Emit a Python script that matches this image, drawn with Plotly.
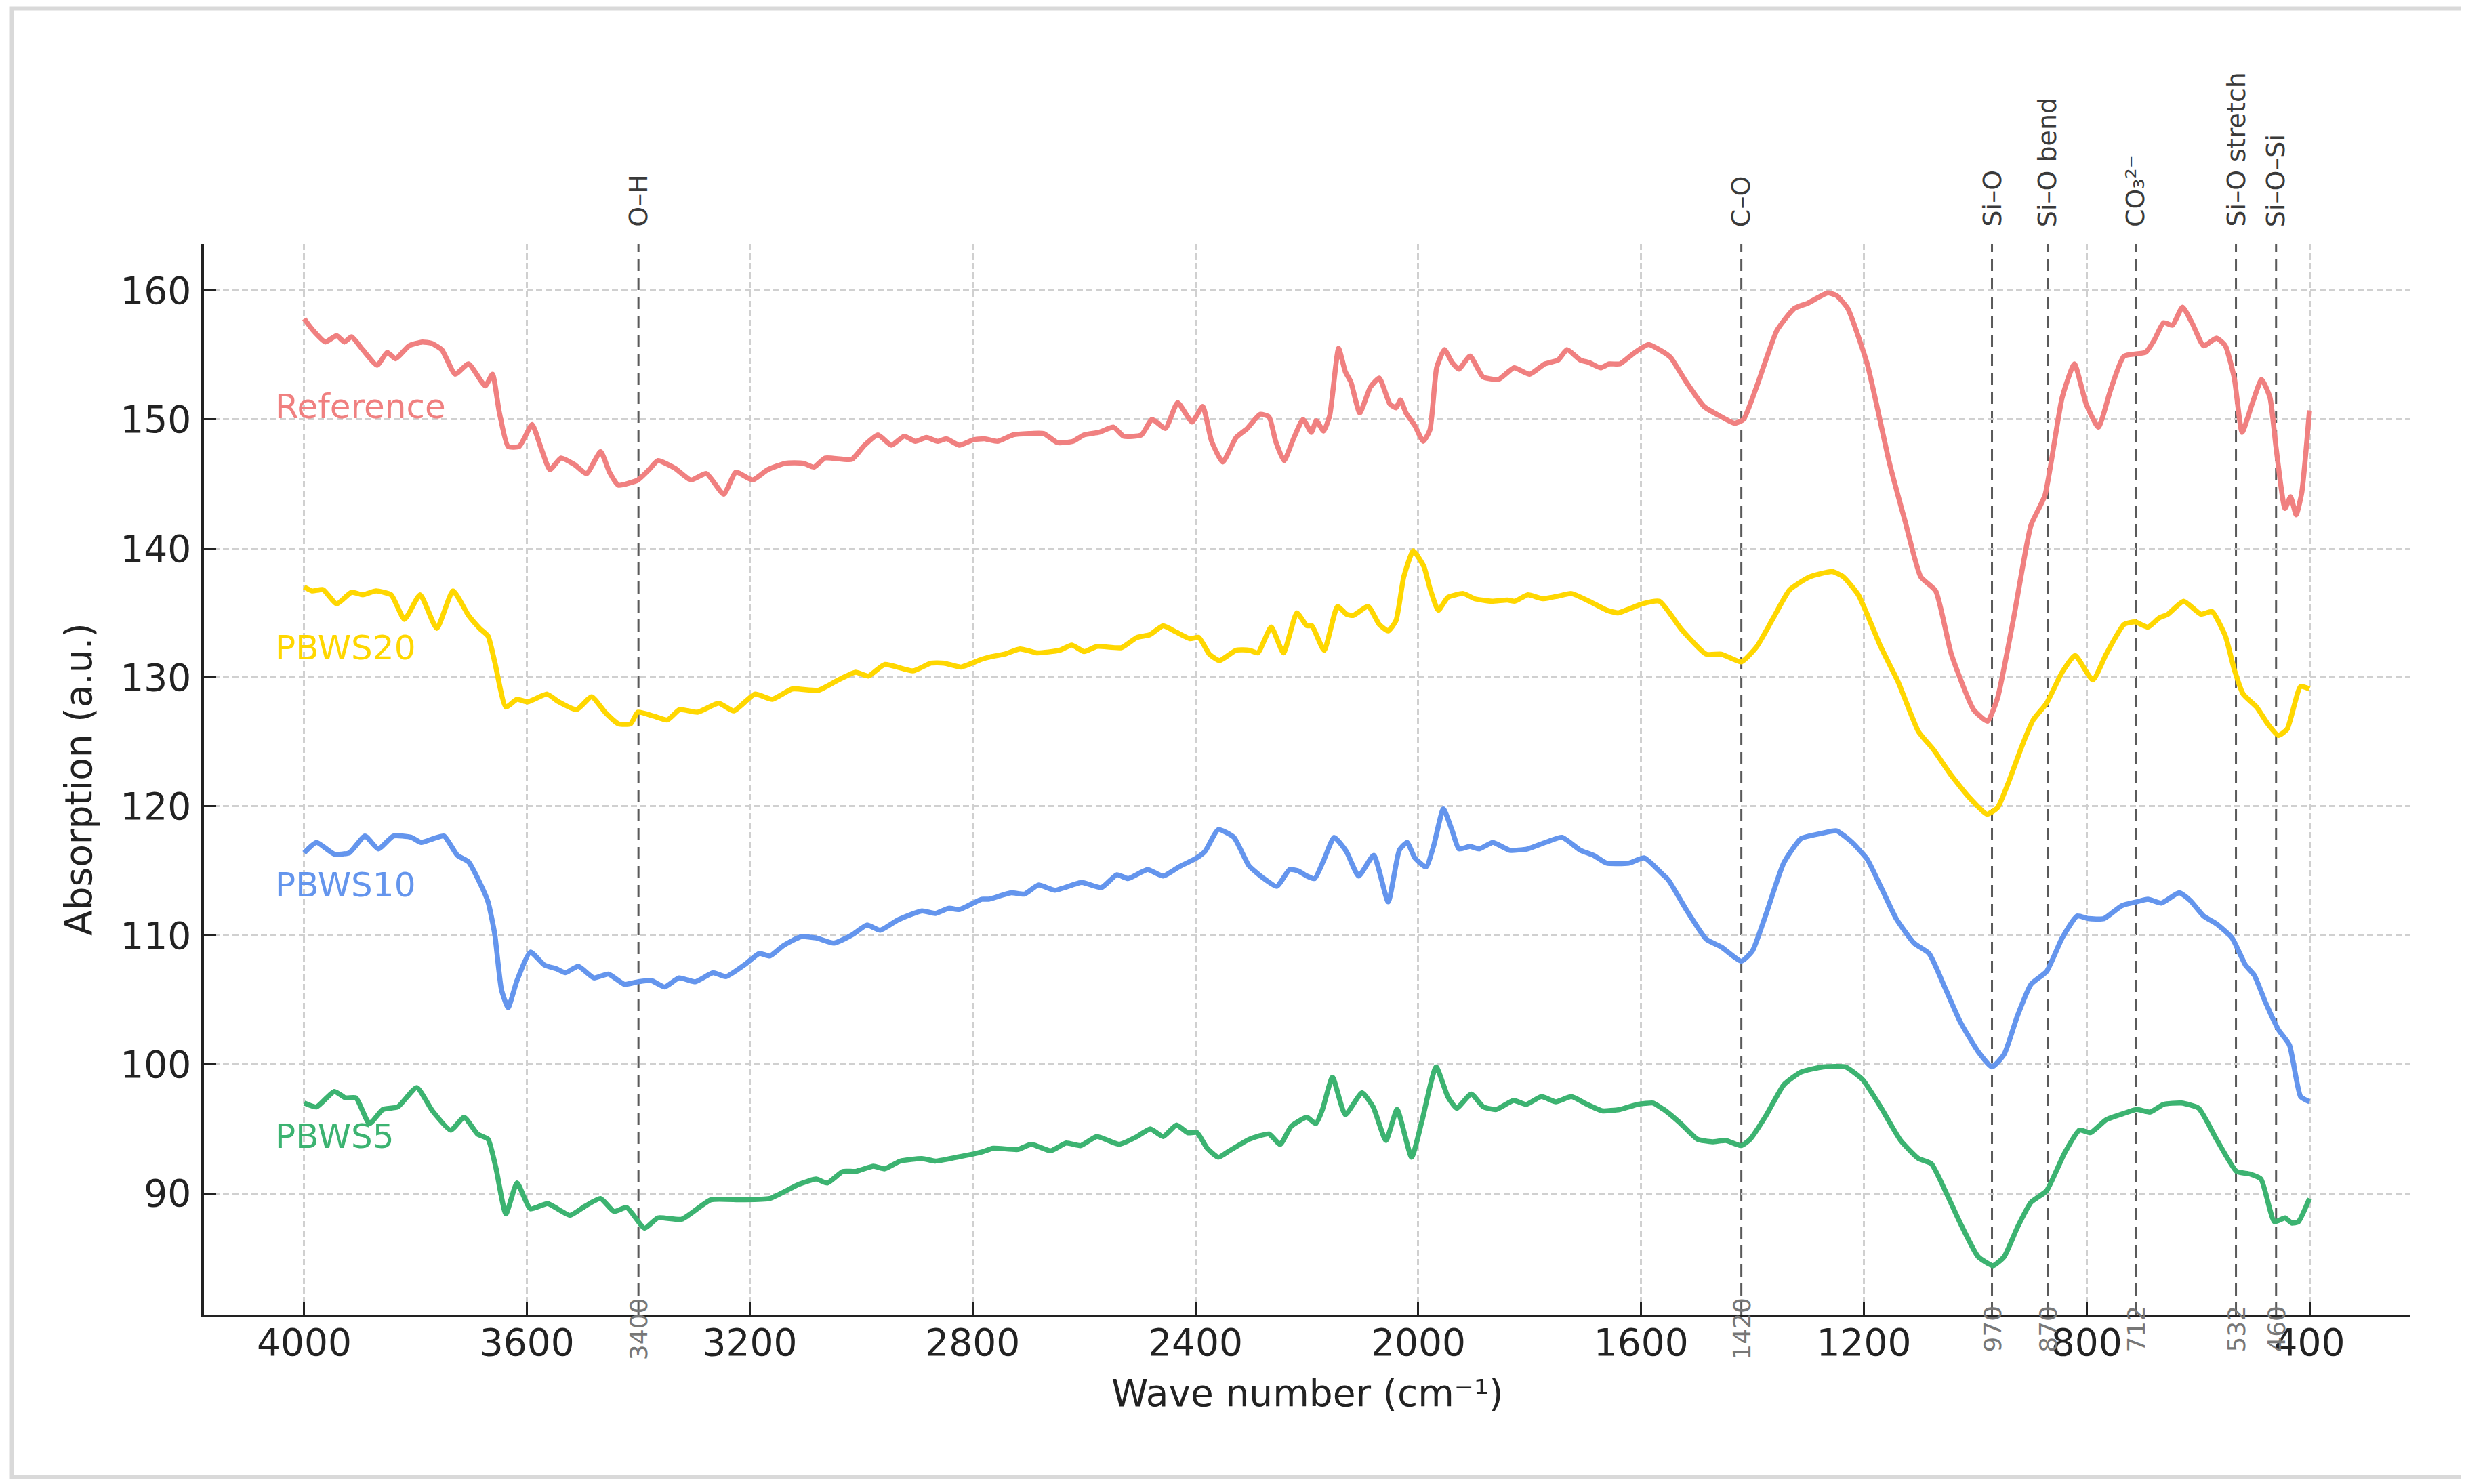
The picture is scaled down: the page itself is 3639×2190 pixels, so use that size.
import plotly.graph_objects as go

# ---------------- data ----------------
series_names = ["Reference", "PBWS20", "PBWS10", "PBWS5"]
series_colors = ["#F08080", "#FFD700", "#6495ED", "#3CB371"]

ref_pts = [
    (4000,157.8),(3986,157.0),(3962,156.0),(3942,156.5),(3928,156.0),(3915,156.4),(3895,155.4),(3869,154.2),
    (3851,155.2),(3836,154.7),(3812,155.7),(3788,156.0),(3772,155.9),(3753,155.4),(3729,153.5),(3705,154.3),
    (3675,152.6),(3662,153.5),(3650,150.6),(3634,147.9),(3614,147.9),(3591,149.6),(3575,147.8),(3559,146.1),
    (3539,147.0),(3515,146.5),(3493,145.8),(3468,147.5),(3452,145.9),(3436,144.9),(3401,145.3),(3381,146.1),
    (3365,146.8),(3334,146.2),(3306,145.3),(3278,145.8),(3247,144.2),(3225,145.9),(3195,145.3),(3168,146.1),
    (3136,146.6),(3104,146.6),(3085,146.3),(3065,147.0),(3017,146.9),(2994,148.0),(2970,148.8),(2946,148.0),
    (2923,148.7),(2903,148.3),(2883,148.6),(2863,148.3),(2847,148.5),(2824,148.0),(2800,148.4),(2779,148.5),
    (2755,148.3),(2727,148.8),(2699,148.9),(2672,148.9),(2648,148.2),(2620,148.3),(2600,148.8),(2573,149.0),
    (2547,149.4),(2529,148.7),(2497,148.8),(2478,150.0),(2454,149.3),(2432,151.3),(2406,149.8),(2387,151.0),
    (2371,148.3),(2351,146.7),(2327,148.6),(2307,149.3),(2284,150.4),(2268,150.2),(2256,148.3),(2241,146.8),
    (2224,148.5),(2207,150.0),(2192,149.0),(2183,149.9),(2170,149.1),(2159,150.3),(2143,155.5),(2131,153.7),
    (2121,152.9),(2105,150.5),(2086,152.5),(2070,153.2),(2051,151.2),(2040,150.9),(2032,151.5),(2022,150.5),
    (2006,149.5),(1991,148.3),(1979,149.2),(1967,154.0),(1953,155.4),(1939,154.4),(1927,153.9),(1907,154.9),
    (1884,153.3),(1856,153.1),(1828,154.0),(1800,153.5),(1773,154.3),(1749,154.6),(1733,155.4),(1709,154.6),
    (1693,154.4),(1673,154.0),(1657,154.3),(1638,154.3),(1614,155.1),(1587,155.8),(1563,155.3),(1547,154.8),
    (1519,152.9),(1487,151.0),(1460,150.3),(1432,149.7),(1416,150.0),(1392,152.6),(1356,156.9),(1325,158.6),
    (1301,159.0),(1265,159.8),(1249,159.6),(1229,158.6),(1194,154.3),(1154,146.6),(1126,142.1),(1098,137.8),
    (1071,136.7),(1043,131.8),(1003,127.5),(978,126.6),(960,128.4),(932,134.4),(900,141.8),(875,144.1),
    (844,151.7),(822,154.3),(801,151.2),(779,149.4),(757,152.3),(733,154.9),(694,155.2),(678,156.2),
    (662,157.5),(646,157.3),(628,158.7),(610,157.4),(590,155.7),(567,156.3),(551,155.7),(535,153.2),
    (521,149.0),(503,151.2),(486,153.1),(471,151.7),(460,147.8),(444,143.1),(434,144.0),(424,142.6),
    (414,144.3),(400,150.7),
]

pbws20_pts = [
    (4000,137.0),(3986,136.7),(3966,136.8),(3942,135.7),(3915,136.6),(3895,136.4),(3871,136.7),(3844,136.4),
    (3820,134.5),(3792,136.4),(3762,133.8),(3733,136.7),(3705,134.8),(3685,133.8),(3670,133.2),(3658,131.2),
    (3638,127.7),(3618,128.3),(3599,128.1),(3564,128.7),(3543,128.1),(3511,127.5),(3484,128.5),(3460,127.3),
    (3436,126.4),(3414,126.4),(3401,127.3),(3373,127.0),(3348,126.7),(3326,127.5),(3294,127.3),(3256,128.0),
    (3229,127.4),(3191,128.7),(3160,128.3),(3124,129.1),(3077,129.0),(3041,129.8),(3010,130.4),(2987,130.1),
    (2958,131.0),(2907,130.5),(2875,131.1),(2851,131.1),(2821,130.8),(2784,131.4),(2767,131.6),(2743,131.8),
    (2715,132.2),(2684,131.9),(2644,132.1),(2622,132.5),(2600,132.0),(2577,132.4),(2533,132.3),(2505,133.1),
    (2482,133.3),(2458,134.0),(2434,133.5),(2410,133.0),(2394,133.1),(2375,131.8),(2357,131.3),(2327,132.1),
    (2303,132.1),(2288,131.9),(2264,133.9),(2242,131.9),(2218,135.0),(2200,134.0),(2191,134.0),(2169,132.1),
    (2145,135.5),(2129,134.9),(2117,134.8),(2090,135.5),(2070,134.1),(2054,133.6),(2040,134.4),(2026,137.8),
    (2009,139.8),(1990,138.6),(1979,136.9),(1964,135.2),(1947,136.2),(1919,136.5),(1899,136.1),(1868,135.9),
    (1840,136.0),(1827,135.9),(1803,136.4),(1777,136.1),(1749,136.3),(1725,136.5),(1693,135.9),(1661,135.2),
    (1641,135.0),(1622,135.3),(1598,135.7),(1567,135.9),(1527,133.7),(1483,131.8),(1456,131.8),(1420,131.2),
    (1392,132.4),(1364,134.5),(1333,136.8),(1297,137.8),(1257,138.2),(1237,137.8),(1210,136.4),(1170,132.4),
    (1138,129.6),(1102,125.8),(1075,124.4),(1043,122.4),(1011,120.7),(979,119.4),(960,119.9),(940,121.9),
    (916,124.7),(896,126.7),(872,128.0),(844,130.4),(821,131.7),(789,129.8),(765,131.8),(733,134.1),
    (713,134.3),(690,133.9),(670,134.6),(654,134.9),(626,135.9),(595,134.9),(575,135.1),(551,133.2),
    (535,130.6),(519,128.7),(495,127.7),(475,126.4),(456,125.5),(440,126.0),(416,129.3),(400,129.1),
]

pbws10_pts = [
    (4000,116.4),(3978,117.2),(3946,116.3),(3919,116.4),(3891,117.7),(3867,116.7),(3840,117.7),(3808,117.6),
    (3790,117.2),(3768,117.5),(3749,117.7),(3725,116.2),(3705,115.7),(3685,114.1),(3670,112.6),(3658,110.1),
    (3646,105.8),(3634,104.4),(3618,106.5),(3594,108.7),(3569,107.7),(3547,107.4),(3531,107.1),(3508,107.6),
    (3480,106.7),(3454,107.0),(3425,106.2),(3401,106.4),(3377,106.5),(3353,106.0),(3327,106.7),(3298,106.4),
    (3266,107.1),(3243,106.8),(3207,107.8),(3183,108.6),(3164,108.4),(3140,109.2),(3108,109.9),(3081,109.8),
    (3049,109.4),(3014,110.1),(2990,110.8),(2966,110.4),(2934,111.2),(2891,111.9),(2867,111.7),(2843,112.1),
    (2824,112.0),(2784,112.8),(2771,112.8),(2731,113.3),(2707,113.2),(2682,113.9),(2652,113.5),(2604,114.1),
    (2569,113.7),(2541,114.7),(2521,114.4),(2486,115.1),(2458,114.6),(2430,115.3),(2398,116.0),(2383,116.5),
    (2359,118.2),(2331,117.6),(2304,115.4),(2280,114.5),(2254,113.8),(2231,115.1),(2216,115.0),(2200,114.6),
    (2186,114.4),(2169,115.9),(2151,117.6),(2129,116.5),(2107,114.6),(2080,116.2),(2054,112.6),(2034,116.6),
    (2020,117.2),(2006,116.0),(1986,115.3),(1972,117.0),(1955,119.8),(1939,118.1),(1927,116.7),(1907,116.9),
    (1891,116.7),(1866,117.2),(1836,116.6),(1804,116.7),(1772,117.2),(1742,117.6),(1709,116.6),(1685,116.2),
    (1662,115.6),(1622,115.6),(1594,116.0),(1563,114.8),(1551,114.3),(1519,112.0),(1483,109.7),(1456,109.1),
    (1420,108.0),(1400,108.8),(1376,111.6),(1344,115.6),(1313,117.5),(1277,117.9),(1249,118.1),(1221,117.2),
    (1194,115.9),(1170,113.8),(1142,111.3),(1110,109.4),(1083,108.6),(1055,106.0),(1027,103.3),(995,101.0),
    (970,99.8),(948,100.8),(924,103.8),(900,106.2),(872,107.2),(844,109.8),(817,111.5),(797,111.3),
    (769,111.3),(737,112.3),(710,112.6),(690,112.8),(666,112.5),(634,113.3),(614,112.7),(590,111.5),
    (567,110.9),(539,109.8),(515,107.7),(499,106.9),(479,104.8),(456,102.7),(436,101.5),(416,97.5),
    (400,97.1),
]

pbws5_pts = [
    (4000,97.0),(3978,96.7),(3946,97.9),(3926,97.4),(3907,97.4),(3883,95.4),(3859,96.5),(3832,96.7),
    (3798,98.2),(3770,96.4),(3737,94.9),(3713,95.9),(3689,94.6),(3670,94.2),(3656,92.0),(3638,88.4),
    (3618,90.8),(3594,88.8),(3563,89.2),(3523,88.3),(3496,89.0),(3468,89.6),(3444,88.6),(3421,88.9),
    (3389,87.3),(3365,88.1),(3322,88.0),(3270,89.5),(3215,89.5),(3164,89.6),(3112,90.7),(3081,91.1),
    (3061,90.8),(3033,91.7),(3010,91.7),(2978,92.1),(2958,91.9),(2930,92.5),(2891,92.7),(2867,92.5),
    (2828,92.8),(2784,93.2),(2763,93.5),(2719,93.4),(2695,93.8),(2660,93.3),(2632,93.9),(2606,93.7),
    (2577,94.4),(2537,93.8),(2505,94.4),(2481,95.0),(2458,94.4),(2434,95.3),(2414,94.7),(2397,94.7),
    (2379,93.5),(2359,92.8),(2339,93.3),(2303,94.2),(2268,94.6),(2248,93.8),(2228,95.2),(2200,95.9),
    (2184,95.4),(2172,96.5),(2154,99.0),(2131,96.1),(2101,97.8),(2081,96.7),(2058,94.1),(2038,96.5),
    (2012,92.8),(1994,95.5),(1968,99.8),(1947,97.5),(1931,96.6),(1905,97.7),(1883,96.7),(1860,96.5),
    (1829,97.2),(1806,96.9),(1779,97.5),(1753,97.1),(1725,97.5),(1697,96.9),(1670,96.4),(1638,96.5),
    (1606,96.9),(1578,97.0),(1563,96.6),(1559,96.5),(1531,95.5),(1499,94.2),(1472,94.0),(1448,94.1),
    (1420,93.7),(1404,94.2),(1376,96.0),(1344,98.4),(1313,99.4),(1273,99.8),(1233,99.8),(1202,98.8),
    (1170,96.7),(1134,94.1),(1102,92.7),(1079,92.3),(1055,90.3),(1027,87.7),(995,85.1),(968,84.4),
    (948,85.1),(924,87.4),(900,89.3),(872,90.2),(840,93.1),(813,94.9),(793,94.7),(765,95.7),
    (733,96.2),(710,96.5),(686,96.3),(662,96.9),(630,97.0),(599,96.6),(567,94.2),(531,91.7),
    (507,91.5),(487,91.1),(463,87.8),(444,88.1),(432,87.7),(420,87.8),(400,89.6),
]

series_points = [ref_pts, pbws20_pts, pbws10_pts, pbws5_pts]

# label anchors for the in-plot series names (x wavenumber, y value)
label_x = [4055, 4055, 4055, 4055]
label_y = [151.0, 132.3, 113.9, 94.4]

# marked bands
band_pos = [3400, 1420, 970, 870, 712, 532, 460]
band_names = ["O–H", "C–O", "Si–O", "Si–O bend", "CO₃²⁻", "Si–O stretch", "Si–O–Si"]

x_ticks = [4000, 3600, 3200, 2800, 2400, 2000, 1600, 1200, 800, 400]
y_ticks = [90, 100, 110, 120, 130, 140, 150, 160]

# ---------------- figure ----------------
OFF = 8                      # default page margin of the html body
W, H = 3639 - OFF, 2190 - OFF
L, R, T, B = 301 - OFF, 83, 360 - OFF, 250
PW, PH = W - L - R, H - T - B
FONT = "DejaVu Sans"

fig = go.Figure()
for name, color, pts in zip(series_names, series_colors, series_points):
    xs = [p[0] for p in pts]
    ys = [p[1] for p in pts]
    fig.add_trace(go.Scatter(x=xs, y=ys, mode="lines", name=name,
                             line=dict(color=color, width=7.5, shape="spline", smoothing=0.5)))

def px_to_px(px):          # screen x pixel -> paper
    return (px - OFF - L) / PW

def py_to_py(py):          # screen y pixel -> paper
    return (H - B - (py - OFF)) / PH

shapes = []
annotations = []
for pos, nm in zip(band_pos, band_names):
    shapes.append(dict(type="line", xref="x", yref="paper", x0=pos, x1=pos, y0=0, y1=1,
                       line=dict(color="#5a5a5a", width=3, dash="18px,10px"), layer="below"))
    annotations.append(dict(x=pos, xref="x", y=py_to_py(337), yref="paper", text=nm,
                            textangle=-90, showarrow=False, xanchor="center", yanchor="bottom",
                            font=dict(family=FONT, size=38, color="#3a3a3a")))
    annotations.append(dict(x=pos, xref="x", y=py_to_py(1961), yref="paper", text=str(pos),
                            textangle=-90, showarrow=False, xanchor="center", yanchor="middle",
                            font=dict(family=FONT, size=36, color="#777777")))

for name, color, lx, ly in zip(series_names, series_colors, label_x, label_y):
    annotations.append(dict(x=lx, xref="x", y=ly, yref="y", text=name, showarrow=False,
                            xanchor="left", yanchor="middle",
                            font=dict(family=FONT, size=50, color=color)))

annotations.append(dict(x=0.5, xref="paper", y=py_to_py(2056), yref="paper",
                        text="Wave number (cm⁻¹)", showarrow=False, xanchor="center", yanchor="middle",
                        font=dict(family=FONT, size=55, color="#222222")))
annotations.append(dict(x=px_to_px(116), xref="paper", y=0.5, yref="paper",
                        text="Absorption (a.u.)", textangle=-90, showarrow=False,
                        xanchor="center", yanchor="middle",
                        font=dict(family=FONT, size=55, color="#222222")))

# outer light-gray frame
shapes.append(dict(type="rect", xref="paper", yref="paper",
                   x0=px_to_px(17.5), x1=px_to_px(3634), y0=py_to_py(2179), y1=py_to_py(12.5),
                   line=dict(color="#d9d9d9", width=6), fillcolor="rgba(0,0,0,0)", layer="below"))

axis_common = dict(showline=True, linecolor="#222222", linewidth=3.5, ticks="inside",
                   ticklen=18, tickwidth=3, tickcolor="#222222", zeroline=False,
                   showgrid=True, gridcolor="#d0d0d0", gridwidth=2.5, griddash="9px,5px",
                   tickfont=dict(family=FONT, size=55, color="#222222"), mirror=False)

fig.update_layout(
    width=W, height=H,
    margin=dict(l=L, r=R, t=T, b=B, pad=0),
    plot_bgcolor="white", paper_bgcolor="white",
    showlegend=False,
    xaxis=dict(range=[4180, 220], tickvals=x_ticks, ticktext=[str(v) for v in x_ticks],
               ticklabelstandoff=-10, **axis_common),
    yaxis=dict(range=[80.6, 163.6], tickvals=y_ticks, ticktext=[str(v) for v in y_ticks],
               ticklabelstandoff=4, **axis_common),
    shapes=shapes, annotations=annotations,
)

fig.write_html("out.html")
